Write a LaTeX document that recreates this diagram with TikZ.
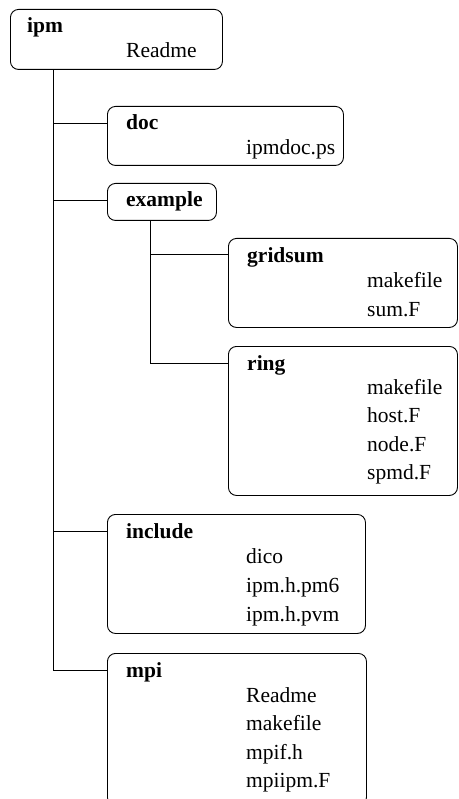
\documentclass[tikz,border=0pt]{standalone}
\usepackage{fontspec}
\setmainfont{Liberation Serif}
\begin{document}
\begin{tikzpicture}[x=1pt,y=-1pt,
  box/.style={draw,line width=0.9pt,rounded corners=8pt,anchor=north west,inner sep=0pt},
  ttl/.style={anchor=base west,inner sep=0pt,font=\fontsize{21.5}{26}\selectfont\bfseries},
  itm/.style={anchor=base west,inner sep=0pt,font=\fontsize{21.5}{26}\selectfont},
  conn/.style={line width=0.9pt}]
\useasboundingbox (0,0) rectangle (458,799);
\clip (0,0) rectangle (458,799);
% boxes
\node[box,minimum width=212pt,minimum height=60pt] (ipm) at (10,9) {};
\node[box,minimum width=236pt,minimum height=59pt] (doc) at (107,106) {};
\node[box,minimum width=109pt,minimum height=37pt] (example) at (107,183) {};
\node[box,minimum width=229pt,minimum height=89pt] (gridsum) at (228,238) {};
\node[box,minimum width=229pt,minimum height=149pt] (ring) at (228,346) {};
\node[box,minimum width=258pt,minimum height=119pt] (include) at (107,514) {};
\node[box,minimum width=259pt,minimum height=152pt] (mpi) at (107,653) {};
% texts
\node[ttl] (tipm) at (27,33) {ipm};
\node[itm] (ipm1) at (126,58) {Readme};
\node[ttl] (tdoc) at (126,130) {doc};
\node[itm] (doc1) at (246,155) {ipmdoc.ps};
\node[ttl] (texample) at (126,207) {example};
\node[ttl] (tgridsum) at (247,262) {gridsum};
\node[itm] (gs1) at (367,287) {makefile};
\node[itm] (gs2) at (367,316) {sum.F};
\node[ttl] (tring) at (247,370) {ring};
\node[itm] (r1) at (367,394) {makefile};
\node[itm] (r2) at (367,422.5) {host.F};
\node[itm] (r3) at (367,451) {node.F};
\node[itm] (r4) at (367,479.5) {spmd.F};
\node[ttl] (tinclude) at (126,538) {include};
\node[itm] (i1) at (246,563) {dico};
\node[itm] (i2) at (246,592) {ipm.h.pm6};
\node[itm] (i3) at (246,621) {ipm.h.pvm};
\node[ttl] (tmpi) at (126,677) {mpi};
\node[itm] (m1) at (246,702) {Readme};
\node[itm] (m2) at (246,730.5) {makefile};
\node[itm] (m3) at (246,759) {mpif.h};
\node[itm] (m4) at (246,787.5) {mpiipm.F};
% connectors
\coordinate (tr) at (53,0);
\coordinate (sub) at (150,0);
\draw[conn] (tr |- ipm.south) |- ([yshift=-17pt]mpi.north west);
\draw[conn] ([yshift=-17pt]doc.north west) -- ([yshift=-17pt]doc.north west -| tr);
\draw[conn] ([yshift=-17pt]example.north west) -- ([yshift=-17pt]example.north west -| tr);
\draw[conn] ([yshift=-17pt]include.north west) -- ([yshift=-17pt]include.north west -| tr);
\draw[conn] (sub |- example.south) |- ([yshift=-17pt]ring.north west);
\draw[conn] ([yshift=-16pt]gridsum.north west) -- ([yshift=-16pt]gridsum.north west -| sub);
\end{tikzpicture}
\end{document}
